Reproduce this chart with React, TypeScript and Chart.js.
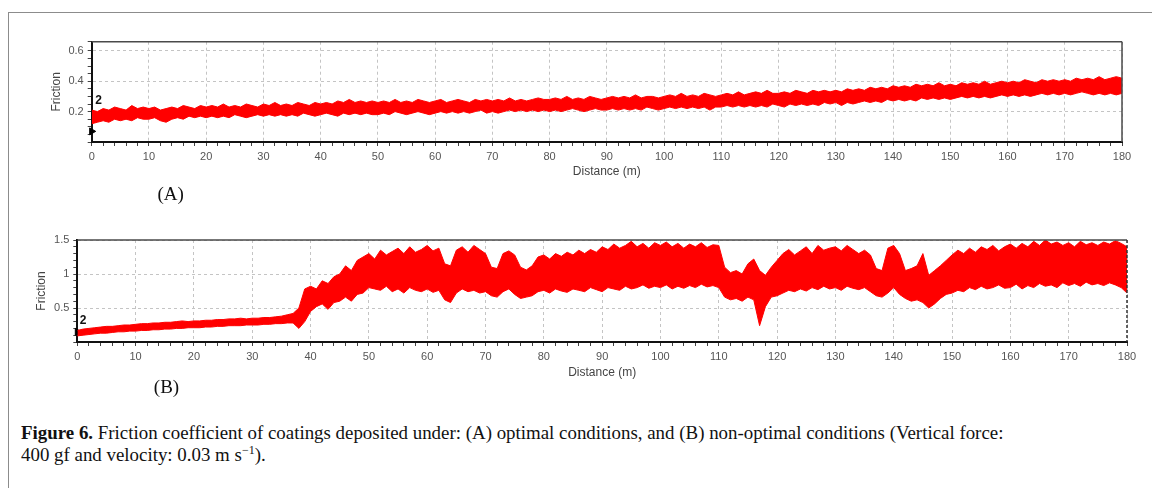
import React, { useEffect, useRef } from "react";
import { Chart, registerables } from "chart.js";

Chart.register(...registerables);

// ---------------- data ----------------
// Distance sampling step (m): one envelope value per metre, 0..180 m
const DISTANCE_STEP = 1;

// Tick labels
const xMajorTicks = [0, 10, 20, 30, 40, 50, 60, 70, 80, 90, 100, 110, 120, 130, 140, 150, 160, 170, 180];
const yMajorTicksA = [0.2, 0.4, 0.6];
const yMajorTicksB = [0.5, 1, 1.5];

// (A) optimal conditions – upper / lower envelope of the friction trace
const frictionA_hi = [
  0.21, 0.2, 0.22, 0.21, 0.23, 0.22, 0.21, 0.24, 0.22, 0.23,
  0.22, 0.23, 0.21, 0.22, 0.23, 0.22, 0.24, 0.23, 0.22, 0.24,
  0.23, 0.24, 0.23, 0.25, 0.23, 0.24, 0.23, 0.25, 0.24, 0.23,
  0.25, 0.24, 0.26, 0.24, 0.25, 0.24, 0.26, 0.25, 0.24, 0.26,
  0.25, 0.26, 0.25, 0.27, 0.26, 0.28, 0.26, 0.27, 0.26, 0.27,
  0.26, 0.27, 0.26, 0.28, 0.26, 0.27, 0.26, 0.28, 0.27, 0.26,
  0.27, 0.28, 0.26, 0.27, 0.28, 0.27, 0.26, 0.28, 0.27, 0.28,
  0.27, 0.28, 0.27, 0.29, 0.27, 0.28, 0.27, 0.28, 0.29, 0.28,
  0.28, 0.29, 0.28, 0.3, 0.28, 0.29, 0.28, 0.3, 0.29, 0.28,
  0.29, 0.3, 0.29, 0.3, 0.29, 0.31, 0.29, 0.3, 0.3, 0.29,
  0.3, 0.31, 0.3, 0.32, 0.3, 0.31, 0.3, 0.32, 0.31, 0.3,
  0.31, 0.32, 0.31, 0.33, 0.31, 0.32, 0.33, 0.32, 0.34, 0.32,
  0.32, 0.33, 0.32, 0.34, 0.33, 0.32, 0.34, 0.33, 0.34, 0.33,
  0.34, 0.33, 0.35, 0.34, 0.35, 0.34, 0.36, 0.35, 0.36, 0.35,
  0.37, 0.36, 0.37, 0.36, 0.38, 0.37, 0.38, 0.37, 0.39, 0.37,
  0.38, 0.37, 0.39, 0.38, 0.39, 0.38, 0.4, 0.38, 0.39, 0.4,
  0.39, 0.4, 0.39, 0.41, 0.4, 0.39, 0.41, 0.4, 0.41, 0.4,
  0.41, 0.4, 0.42, 0.41, 0.42, 0.41, 0.43, 0.41, 0.42, 0.43,
  0.42,
];
const frictionA_lo = [
  0.12, 0.13, 0.14, 0.13, 0.15, 0.14, 0.15, 0.14, 0.16, 0.15,
  0.15, 0.16, 0.14, 0.13, 0.15, 0.16, 0.15, 0.17, 0.16, 0.17,
  0.16, 0.17, 0.16, 0.17, 0.16, 0.18, 0.17, 0.16, 0.17, 0.18,
  0.17, 0.18, 0.17, 0.18, 0.17, 0.18, 0.17, 0.19, 0.18, 0.17,
  0.18, 0.19, 0.18, 0.17, 0.19, 0.18, 0.19, 0.18, 0.19, 0.18,
  0.18, 0.19, 0.18, 0.2, 0.19, 0.18, 0.19, 0.2, 0.19, 0.18,
  0.19, 0.2, 0.19, 0.2, 0.19, 0.2, 0.19, 0.2, 0.21, 0.19,
  0.2, 0.19, 0.2, 0.21, 0.2, 0.21, 0.2, 0.21, 0.2, 0.21,
  0.2, 0.21, 0.2, 0.21, 0.22, 0.21, 0.2, 0.21, 0.22, 0.21,
  0.21, 0.22, 0.21, 0.22, 0.21, 0.22, 0.21, 0.23, 0.22, 0.21,
  0.22, 0.23, 0.22, 0.23, 0.22, 0.23, 0.22, 0.23, 0.21, 0.23,
  0.23, 0.24, 0.23, 0.24, 0.23, 0.24, 0.23, 0.24, 0.23, 0.25,
  0.24, 0.23, 0.25, 0.24, 0.25, 0.24, 0.25, 0.24, 0.26, 0.25,
  0.26, 0.24, 0.26, 0.25, 0.26, 0.27, 0.26, 0.27, 0.26, 0.28,
  0.27, 0.28, 0.27, 0.28, 0.27, 0.29, 0.28, 0.29, 0.28, 0.29,
  0.28, 0.29, 0.3, 0.29, 0.3, 0.29, 0.3, 0.29, 0.3, 0.31,
  0.3, 0.31, 0.3, 0.31, 0.3, 0.31, 0.32, 0.31, 0.32, 0.31,
  0.32, 0.31, 0.32, 0.33, 0.32, 0.31, 0.32, 0.31, 0.32, 0.31,
  0.32,
];

// (B) non-optimal conditions – upper / lower envelope of the friction trace
const frictionB_hi = [
  0.17, 0.19, 0.2, 0.21, 0.22, 0.23, 0.23, 0.24, 0.25, 0.25,
  0.26, 0.27, 0.27, 0.28, 0.28, 0.29, 0.29, 0.3, 0.31, 0.3,
  0.31, 0.31, 0.32, 0.32, 0.33, 0.33, 0.34, 0.34, 0.35, 0.34,
  0.35, 0.35, 0.36, 0.36, 0.37, 0.38, 0.4, 0.42, 0.5, 0.78,
  0.82, 0.78, 0.9, 0.86, 0.96, 1.0, 1.12, 1.05, 1.2, 1.25,
  1.3, 1.22, 1.35, 1.28, 1.33, 1.38, 1.3, 1.4, 1.32, 1.36,
  1.42, 1.34, 1.38, 1.15, 1.12, 1.35, 1.4, 1.32, 1.42, 1.36,
  1.3, 1.1, 1.08, 1.3, 1.34, 1.28, 1.1, 1.06, 1.12, 1.25,
  1.28, 1.22, 1.3, 1.26, 1.32, 1.28, 1.35, 1.3, 1.36, 1.32,
  1.4, 1.36, 1.44, 1.38, 1.42, 1.48, 1.4, 1.45, 1.38, 1.46,
  1.42, 1.47, 1.4, 1.45, 1.38, 1.44, 1.4, 1.46, 1.39, 1.43,
  1.42, 1.1, 1.02, 1.05, 1.0, 1.15, 1.22, 1.05, 0.98, 1.1,
  1.2, 1.3, 1.36, 1.28, 1.34, 1.4, 1.3, 1.42, 1.35, 1.38,
  1.4, 1.34, 1.42, 1.36, 1.3, 1.35, 1.28, 1.08, 1.05, 1.38,
  1.42, 1.3, 1.05, 1.08, 1.12, 1.3, 0.98, 1.05, 1.12, 1.2,
  1.28, 1.35, 1.3, 1.38, 1.32, 1.4, 1.36, 1.42, 1.34, 1.4,
  1.44, 1.38, 1.45, 1.4, 1.48, 1.42, 1.5, 1.44, 1.47, 1.42,
  1.46, 1.4, 1.48, 1.43, 1.46, 1.42, 1.47, 1.44, 1.49, 1.45,
  1.4,
];
const frictionB_lo = [
  0.09, 0.1, 0.11, 0.12, 0.13, 0.13, 0.14, 0.15, 0.15, 0.16,
  0.16, 0.17, 0.17, 0.18, 0.18, 0.19, 0.19, 0.2, 0.2, 0.21,
  0.21, 0.21, 0.22, 0.22, 0.23, 0.23, 0.24, 0.24, 0.24, 0.25,
  0.25, 0.25, 0.26, 0.26, 0.27, 0.27, 0.28, 0.28, 0.2, 0.3,
  0.45, 0.52, 0.56, 0.48, 0.58, 0.6, 0.66, 0.6, 0.7, 0.72,
  0.8, 0.78, 0.76, 0.82, 0.74, 0.78, 0.72, 0.8, 0.76, 0.74,
  0.78, 0.73, 0.76, 0.62, 0.58, 0.72, 0.78, 0.74, 0.76, 0.72,
  0.74, 0.68, 0.66, 0.74, 0.78, 0.7, 0.64, 0.66, 0.68, 0.74,
  0.76, 0.72, 0.78, 0.75, 0.73, 0.78, 0.76, 0.74, 0.8, 0.77,
  0.74, 0.8, 0.78, 0.76, 0.82, 0.78, 0.8, 0.84, 0.79, 0.82,
  0.8, 0.84, 0.78, 0.82, 0.79, 0.83, 0.8, 0.85, 0.81, 0.83,
  0.8, 0.66, 0.62, 0.64, 0.6, 0.66, 0.62, 0.24, 0.52, 0.66,
  0.68, 0.72, 0.76, 0.74, 0.78, 0.75, 0.8, 0.77, 0.82, 0.78,
  0.8, 0.76, 0.82, 0.79, 0.77, 0.8, 0.74, 0.68, 0.66, 0.72,
  0.8, 0.7, 0.64, 0.6, 0.62, 0.58, 0.5, 0.56, 0.64, 0.7,
  0.72, 0.76, 0.74, 0.8, 0.77, 0.82, 0.78, 0.8, 0.84, 0.79,
  0.8, 0.85, 0.78, 0.83, 0.8, 0.86, 0.82, 0.84, 0.8, 0.87,
  0.83, 0.86, 0.82, 0.88, 0.84, 0.86, 0.83, 0.87, 0.84, 0.8,
  0.72,
];

// start markers ("2" cursor) – [distance, friction]
const markerA = [0, 0.07];
const markerB = [0, 0.15];
const cursorLabelA = [1.2, 0.27];
const cursorLabelB = [1.0, 0.32];

// ---------------- styles ----------------
const RED = "#ff0000";
const GRID = "#c4c4c4";
const TICK_TEXT = "#555555";
const SANS = "'Liberation Sans', Arial, sans-serif";
const SERIF = "'Liberation Serif', 'Times New Roman', serif";

const near = (list: number[], v: number) => list.find((t) => Math.abs(t - v) < 1e-6);

type PanelProps = {
  hi: number[];
  lo: number[];
  yMax: number;
  yStep: number;
  yMajor: number[];
  marker: number[];
  cursorLabel: number[];
  yAxisWidth: number;
  xAxisHeight: number;
  padTop: number;
  padRight: number;
  yTitlePad: number;
  xTitlePad: number;
  dashedRight: boolean;
};

const framePlugin = (dashedRight: boolean, cursorLabel: number[]) => ({
  id: "frame",
  afterDatasetsDraw(chart: any) {
    const { ctx, chartArea } = chart;
    const { left, right, top, bottom } = chartArea;
    ctx.save();
    ctx.strokeStyle = "#4a4a4a";
    ctx.lineWidth = 1.5;
    ctx.beginPath();
    ctx.moveTo(left, top);
    ctx.lineTo(right, top);
    ctx.stroke();
    if (dashedRight) {
      ctx.setLineDash([3, 2]);
      ctx.strokeStyle = "#333";
    }
    ctx.beginPath();
    ctx.moveTo(right, top);
    ctx.lineTo(right, bottom);
    ctx.stroke();
    ctx.setLineDash([]);
    const xs = chart.scales.x;
    const ys = chart.scales.y;
    ctx.fillStyle = "#111";
    ctx.font = `bold 12px ${SANS}`;
    ctx.textAlign = "center";
    ctx.textBaseline = "middle";
    ctx.fillText("2", xs.getPixelForValue(cursorLabel[0]), ys.getPixelForValue(cursorLabel[1]));
    ctx.restore();
  },
});

function Panel(p: PanelProps & { style: React.CSSProperties }) {
  const ref = useRef<HTMLCanvasElement | null>(null);
  useEffect(() => {
    if (!ref.current) return;
    const hiData = p.hi.map((v, i) => ({ x: i * DISTANCE_STEP, y: v }));
    const loData = p.lo.map((v, i) => ({ x: i * DISTANCE_STEP, y: v }));
    const chart = new Chart(ref.current, {
      type: "line",
      data: {
        datasets: [
          {
            data: hiData,
            borderColor: RED,
            borderWidth: 1,
            pointRadius: 0,
            fill: false,
            tension: 0,
          },
          {
            data: loData,
            borderColor: RED,
            backgroundColor: RED,
            borderWidth: 1,
            pointRadius: 0,
            fill: "-1",
            tension: 0,
          },
          {
            type: "scatter",
            data: [{ x: p.marker[0], y: p.marker[1] }],
            pointStyle: "triangle",
            rotation: 90,
            pointRadius: 4,
            backgroundColor: "#000",
            borderColor: "#000",
            clip: false,
          } as any,
        ],
      },
      options: {
        animation: false,
        responsive: true,
        maintainAspectRatio: false,
        layout: { padding: { top: p.padTop, right: p.padRight, left: 0, bottom: 0 } },
        plugins: { legend: { display: false }, tooltip: { enabled: false } },
        scales: {
          x: {
            type: "linear",
            min: 0,
            max: 180,
            afterFit: (s: any) => {
              s.height = p.xAxisHeight;
            },
            ticks: {
              stepSize: 2,
              autoSkip: false,
              maxRotation: 0,
              padding: 4,
              color: TICK_TEXT,
              font: { family: SANS, size: 11 },
              callback: (v: any) => {
                const m = near(xMajorTicks, Number(v));
                return m !== undefined ? String(m) : "";
              },
            },
            grid: {
              color: (c: any) => (c.tick && near(xMajorTicks, c.tick.value) !== undefined ? GRID : "rgba(0,0,0,0)"),
              tickColor: "#444",
              tickLength: 4,
              lineWidth: 1,
            },
            border: { display: true, color: "#111", width: 2, dash: [3, 3] },
            title: {
              display: true,
              text: "Distance (m)",
              color: "#444",
              font: { family: SANS, size: 12 },
              padding: { top: 0, bottom: p.xTitlePad },
            },
          },
          y: {
            type: "linear",
            min: 0,
            max: p.yMax,
            afterFit: (s: any) => {
              s.width = p.yAxisWidth;
            },
            ticks: {
              stepSize: p.yStep,
              autoSkip: false,
              padding: 4,
              color: TICK_TEXT,
              font: { family: SANS, size: 11 },
              callback: (v: any) => {
                const m = near(p.yMajor, Number(v));
                return m !== undefined ? String(m) : "";
              },
            },
            grid: {
              color: (c: any) => (c.tick && near(p.yMajor, c.tick.value) !== undefined ? GRID : "rgba(0,0,0,0)"),
              tickColor: "#444",
              tickLength: 4,
              lineWidth: 1,
            },
            border: { display: true, color: "#111", width: 2, dash: [3, 3] },
            title: {
              display: true,
              text: "Friction",
              color: "#444",
              font: { family: SANS, size: 12 },
              padding: { top: p.yTitlePad, bottom: 0 },
            },
          },
        },
      },
      plugins: [framePlugin(p.dashedRight, p.cursorLabel)],
    } as any);
    return () => chart.destroy();
  }, []);
  return (
    <div style={{ position: "absolute", ...p.style }}>
      <canvas ref={ref} />
    </div>
  );
}

export default function App() {
  return (
    <div
      style={{
        position: "fixed",
        left: 0,
        top: 0,
        width: 1152,
        height: 488,
        overflow: "hidden",
        background: "#fff",
      }}
    >
      <div
        style={{
          position: "absolute",
          left: 8,
          top: 12,
          width: 1170,
          height: 500,
          border: "1.5px solid #8c8c8c",
        }}
      />
      <Panel
        style={{ left: 20, top: 30, width: 1120, height: 155 }}
        hi={frictionA_hi}
        lo={frictionA_lo}
        yMax={0.66}
        yStep={0.05}
        yMajor={yMajorTicksA}
        marker={markerA}
        cursorLabel={cursorLabelA}
        yAxisWidth={71.7}
        xAxisHeight={43}
        padTop={11.7}
        padRight={18}
        yTitlePad={29.8}
        xTitlePad={5.8}
        dashedRight={false}
      />
      <Panel
        style={{ left: 20, top: 225, width: 1125, height: 160 }}
        hi={frictionB_hi}
        lo={frictionB_lo}
        yMax={1.5}
        yStep={0.1}
        yMajor={yMajorTicksB}
        marker={markerB}
        cursorLabel={cursorLabelB}
        yAxisWidth={57.3}
        xAxisHeight={43}
        padTop={15}
        padRight={18}
        yTitlePad={14.8}
        xTitlePad={4.8}
        dashedRight={true}
      />
      <div
        style={{
          position: "absolute",
          left: 170.7,
          top: 192.7,
          transform: "translate(-50%, -50%)",
          fontFamily: SERIF,
          fontSize: 19,
          lineHeight: 1,
          color: "#111",
        }}
      >
        (A)
      </div>
      <div
        style={{
          position: "absolute",
          left: 166.5,
          top: 385.5,
          transform: "translate(-50%, -50%)",
          fontFamily: SERIF,
          fontSize: 19,
          lineHeight: 1,
          color: "#111",
        }}
      >
        (B)
      </div>
      <div
        style={{
          position: "absolute",
          left: 21,
          top: 422,
          fontFamily: SERIF,
          fontSize: 18.9,
          lineHeight: "22px",
          color: "#111",
          whiteSpace: "nowrap",
        }}
      >
        <b>Figure 6.</b> Friction coefficient of coatings deposited under: (A) optimal conditions, and (B) non-optimal
        conditions (Vertical force:
        <br />
        400 gf and velocity: 0.03 m s<sup style={{ fontSize: 12, lineHeight: 0 }}>−1</sup>).
      </div>
    </div>
  );
}
